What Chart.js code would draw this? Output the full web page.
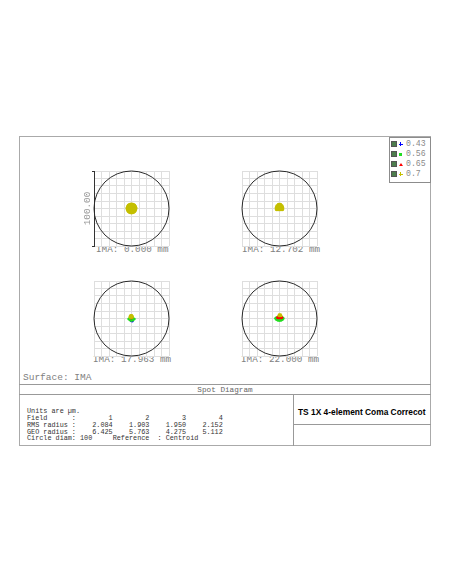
<!DOCTYPE html>
<html>
<head>
<meta charset="utf-8">
<script src="https://cdn.jsdelivr.net/npm/chart.js@4"></script>
<style>
body { margin: 0; background: #fff; }
#page { position: relative; width: 452px; height: 584px; overflow: hidden; font-family: "Liberation Mono", monospace; }
.abs { position: absolute; white-space: pre; }
.box { position: absolute; box-sizing: border-box; }
.ima { font-size: 9.3px; line-height: 10px; color: #808080; }
.leg { font-size: 8.2px; line-height: 10px; color: #8a8a8a; }
.icon { position: absolute; width: 4px; height: 4px; background: #4d7d4d; border: 1px solid #555; }
</style>
</head>
<body>
<div id="page">
  <div class="box" style="left:19px;top:136px;width:412px;height:310px;border:1px solid #aaa;"></div>
  <div class="box" style="left:19px;top:384px;width:412px;height:1px;background:#999;"></div>
  <div class="box" style="left:19px;top:394px;width:412px;height:1px;background:#999;"></div>
  <div class="box" style="left:293px;top:394px;width:1px;height:52px;background:#999;"></div>
  <div class="box" style="left:293px;top:424px;width:138px;height:1px;background:#999;"></div>
  <div class="box" style="left:389px;top:137px;width:42px;height:46px;border:1px solid #8c8c8c;background:#fff;"></div>
  <div id="legend"></div>
  <div id="labels"></div>
  <div class="abs" style="left:23px;top:373px;font-size:9.5px;line-height:10px;color:#808080;">Surface: IMA</div>
  <div class="abs" style="left:19px;top:384.7px;width:412px;text-align:center;font-size:7.7px;line-height:10px;color:#666;">Spot Diagram</div>
  <div class="abs" style="left:298px;top:406.5px;font-family:'Liberation Sans',Arial,sans-serif;font-weight:bold;font-size:8.4px;line-height:10px;color:#000;">TS 1X 4-element Coma Correcot</div>
  <div id="stats" class="abs" style="left:27px;top:408.3px;font-size:6.8px;line-height:6.8px;color:#333;"></div>
</div>
<script>
// data
const wavelengths = ['0.43', '0.56', '0.65', '0.7'];
const fieldLabels = ['IMA: 0.000 mm', 'IMA: 12.702 mm', 'IMA: 17.963 mm', 'IMA: 22.000 mm'];
const fieldNumbers = [1, 2, 3, 4];
const rmsRadius = ['2.084', '1.903', '1.950', '2.152'];
const geoRadius = ['6.425', '5.763', '4.275', '5.112'];
const circleDiam = 100;
const scaleLabel = '100.00';

// spot points (um), one list per wavelength for each field
const spot1_043 = [[0,0],[1.5,1],[-1.5,-1],[1,-1.5]];
const spot1_056 = [[0,0],[1.5,-1],[-1.5,1],[-1,-1.5]];
const spot1_065 = [[0,0],[1,1.5],[-1,-1],[1.5,-1]];
const spot1_07 = [[0,0],[2.5,0],[-2.5,0],[0,2.5],[0,-2.5],[1.8,1.8],[-1.8,1.8],[1.8,-1.8],[-1.8,-1.8],
  [4.8,0],[-4.8,0],[0,4.8],[0,-4.8],[3.4,3.4],[-3.4,3.4],[3.4,-3.4],[-3.4,-3.4],
  [4.4,1.8],[-4.4,1.8],[4.4,-1.8],[-4.4,-1.8],[1.8,4.4],[-1.8,4.4],[1.8,-4.4],[-1.8,-4.4]];

const spot2_043 = [[-1.5,0.5],[1.5,0.5],[0,2]];
const spot2_056 = [[-2,0],[2,0],[0,1.5],[0,3]];
const spot2_065 = [[-1.5,1],[1.5,1],[0,2.5]];
const spot2_07 = [[-3.6,-0.7],[-1.8,-0.7],[0,-0.7],[1.8,-0.7],[3.6,-0.7],[-3.4,1.4],[-1.2,1.4],[1.2,1.4],[3.4,1.4],
  [-2.6,3.2],[0,3.2],[2.6,3.2],[-1,4.6],[1,4.6],[0,2]];

const spot3_043 = [[0,-3.2],[1.2,-3.4],[0.6,-2.4],[-0.6,-2.6]];
const spot3_056 = [[-3.8,-0.8],[-2.2,0.4],[-2,-2],[0,0.5],[0,-1.2],[0,-2.7],[2,0.4],[2,-2],[3.8,-0.8],[-1,-1],[1,-1]];
const spot3_065 = [[-1,1.5],[0.5,1.5],[-0.3,0.6],[-0.3,2.5]];
const spot3_07 = [[-2,1.4],[-0.4,1.2],[1.2,1.4],[-2,2.8],[-0.4,2.6],[1.3,2.8],[-1.2,4],[0.4,4]];

const spot4_043 = [[-1,-1.2],[1,-1.2],[0,0]];
const spot4_056 = [[-5.3,0],[-4,1.2],[-4,-1.5],[-2,-2.5],[0,-2.7],[2,-2.5],[3.8,-1.5],[5,0],[3.8,1.2],[-2,-0.8],[0,-1],[2,-0.8],[0,1]];
const spot4_065 = [[-2.7,1],[-1,0.8],[0.6,0.8],[2.2,0.8],[3.2,1.2],[-1.6,2.2],[1.8,2.2]];
const spot4_07 = [[-1,3.6],[0.6,3.4],[2.2,3.6],[-0.4,5],[1.4,5],[0.6,4.2]];

const spots = [
  [spot1_043, spot1_056, spot1_065, spot1_07],
  [spot2_043, spot2_056, spot2_065, spot2_07],
  [spot3_043, spot3_056, spot3_065, spot3_07],
  [spot4_043, spot4_056, spot4_065, spot4_07]
];

// styles / layout
const waveColors = ['#0000ff', '#22dd22', '#ff0000', '#c4bf00'];
const dotSize = [2.4, 2.2, 1.4, 1.4];
const squares = [[94, 170], [242, 170], [94, 280], [242, 280]];
const labelPos = [[96, 244.5], [242, 244.5], [93, 354.8], [241, 354.8]];
const SQ = 77;

const page = document.getElementById('page');

// legend
const legend = document.getElementById('legend');
const markers = [
  '<div style="position:absolute;left:0;top:1.5px;width:4px;height:1px;background:#0000ff"></div><div style="position:absolute;left:1.5px;top:0;width:1px;height:4px;background:#0000ff"></div>',
  '<div style="position:absolute;left:0.5px;top:0.5px;width:3px;height:3px;background:#22dd22"></div>',
  '<div style="position:absolute;left:0;top:0.5px;width:0;height:0;border-left:2px solid transparent;border-right:2px solid transparent;border-bottom:3px solid #ff0000"></div>',
  '<div style="position:absolute;left:0;top:1.5px;width:4px;height:1px;background:#c4bf00"></div><div style="position:absolute;left:1.5px;top:0;width:1px;height:4px;background:#c4bf00"></div>'
];
wavelengths.forEach((w, i) => {
  const cy = 144 + i * 10;
  legend.innerHTML += `<div class="icon" style="left:391px;top:${cy - 3}px"></div>
    <div style="position:absolute;left:398.5px;top:${cy - 2}px;width:4px;height:4px">${markers[i]}</div>
    <div class="abs leg" style="left:406px;top:${cy - 5.3}px">${w}</div>`;
});

// field labels
const labels = document.getElementById('labels');
fieldLabels.forEach((t, i) => {
  labels.innerHTML += `<div class="abs ima" style="left:${labelPos[i][0]}px;top:${labelPos[i][1]}px">${t}</div>`;
});

// stats text
const pad = (v) => String(v).padStart(9);
document.getElementById('stats').textContent =
  'Units are \u00b5m.\n' +
  'Field      :' + fieldNumbers.map(pad).join('') + '\n' +
  'RMS radius :' + rmsRadius.map(pad).join('') + '\n' +
  'GEO radius :' + geoRadius.map(pad).join('') + '\n' +
  'Circle diam: ' + circleDiam + '     Reference  : Centroid';

const refCircle = {
  id: 'refCircle',
  beforeDatasetsDraw(chart) {
    const {ctx, scales: {x, y}} = chart;
    const cx = x.getPixelForValue(0), cy = y.getPixelForValue(0);
    const r = x.getPixelForValue(circleDiam / 2) - cx;
    ctx.save();
    ctx.strokeStyle = '#2a2a2a';
    ctx.lineWidth = 1;
    ctx.beginPath();
    ctx.arc(cx, cy, r, 0, Math.PI * 2);
    ctx.stroke();
    ctx.restore();
  }
};

spots.forEach((field, f) => {
  const [sx, sy] = squares[f];
  const first = f === 0;
  const c = document.createElement('canvas');
  c.width = SQ + 22; c.height = SQ + 6;
  c.style.position = 'absolute';
  c.style.left = (sx - 20) + 'px';
  c.style.top = (sy - 3) + 'px';
  page.appendChild(c);

  new Chart(c, {
    type: 'scatter',
    data: {
      datasets: field.map((pts, w) => ({
        label: wavelengths[w],
        data: pts.map(p => ({x: p[0], y: p[1]})),
        backgroundColor: waveColors[w],
        borderWidth: 0,
        pointRadius: dotSize[f],
        order: 3 - w
      }))
    },
    options: {
      responsive: false,
      animation: false,
      events: [],
      layout: {padding: {left: first ? 20 - 11.3 : 20, right: 2, top: 3, bottom: 3}},
      plugins: {legend: {display: false}, tooltip: {enabled: false}},
      scales: {
        x: {
          type: 'linear', min: -circleDiam / 2, max: circleDiam / 2,
          ticks: {display: false, stepSize: 10},
          grid: {color: '#dedede', drawTicks: false},
          border: {display: false}
        },
        y: {
          type: 'linear', min: -circleDiam / 2, max: circleDiam / 2,
          ticks: {display: false, stepSize: 10},
          grid: {
            color: '#dedede',
            drawTicks: first,
            tickLength: 2,
            tickColor: (ctx) => (ctx.index === 0 || ctx.index === 10) ? '#333' : 'rgba(0,0,0,0)'
          },
          border: {display: first, color: '#333', width: 1},
          title: {
            display: first, text: scaleLabel, color: '#999',
            font: {family: 'Liberation Mono', size: 9.3, lineHeight: 1},
            padding: {top: 0, bottom: 0}
          }
        }
      }
    },
    plugins: [refCircle]
  });
});
</script>
</body>
</html>
